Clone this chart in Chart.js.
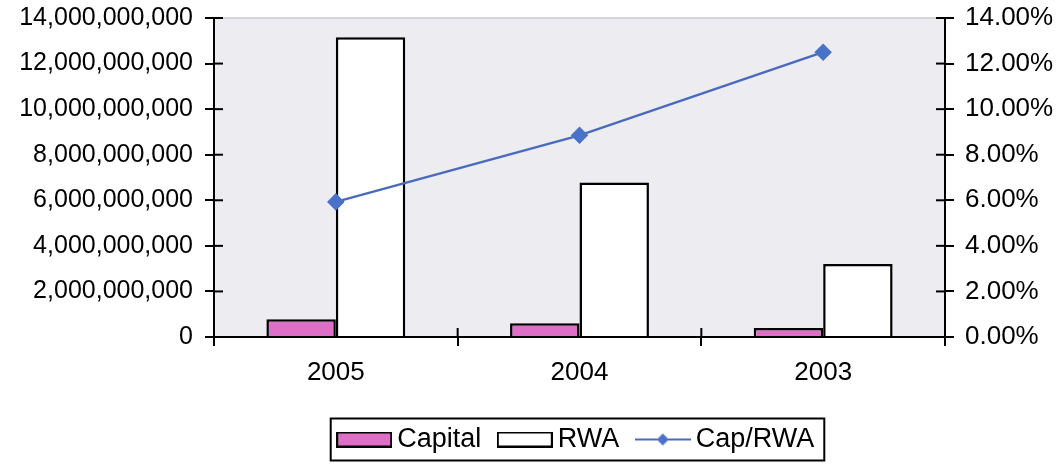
<!DOCTYPE html>
<html>
<head>
<meta charset="utf-8">
<script src="https://cdn.jsdelivr.net/npm/chart.js@4"></script>
<style>
html,body{margin:0;padding:0;background:#fff;}
#wrap{width:1059px;height:466px;position:relative;}
</style>
</head>
<body>
<div id="wrap"><canvas id="c" width="1059" height="466"></canvas></div>
<script>
const categories = ['2005', '2004', '2003'];
const capital = [780000000, 600000000, 400000000];
const rwa = [13150000000, 6780000000, 3200000000];
const capRwa = [5.93, 8.85, 12.50];
const leftTicks = [0, 2000000000, 4000000000, 6000000000, 8000000000, 10000000000, 12000000000, 14000000000];
const rightTicks = [0, 2, 4, 6, 8, 10, 12, 14];

const FONT = "'Liberation Sans', Arial, sans-serif";

function makeImg(w, h, drawFn) {
  const cv = document.createElement('canvas');
  cv.width = w; cv.height = h;
  drawFn(cv.getContext('2d'), w, h);
  return cv;
}
const imgCapital = makeImg(56, 16, (g, w, h) => {
  g.fillStyle = '#dd6fc6'; g.fillRect(1, 1, w - 2, h - 2);
  g.strokeStyle = '#000'; g.lineWidth = 2; g.strokeRect(1, 1, w - 2, h - 2);
});
const imgRwa = makeImg(56, 16, (g, w, h) => {
  g.fillStyle = '#fff'; g.fillRect(1, 1, w - 2, h - 2);
  g.strokeStyle = '#000'; g.lineWidth = 2; g.strokeRect(1, 1, w - 2, h - 2);
});
const imgLine = makeImg(56, 16, (g, w, h) => {
  g.strokeStyle = '#4a6bbd'; g.lineWidth = 2;
  g.beginPath(); g.moveTo(0, h / 2); g.lineTo(w, h / 2); g.stroke();
  g.fillStyle = '#4a72c8';
  g.beginPath(); g.moveTo(w / 2, h / 2 - 6); g.lineTo(w / 2 + 6, h / 2); g.lineTo(w / 2, h / 2 + 6); g.lineTo(w / 2 - 6, h / 2); g.closePath(); g.fill();
});
const legendImgs = [imgCapital, imgRwa, imgLine];

const TL = 9;
const decor = {
  id: 'decor',
  beforeDraw(chart) {
    const a = chart.chartArea, ctx = chart.ctx;
    ctx.save();
    ctx.fillStyle = '#ececf1';
    ctx.fillRect(a.left, a.top, a.right - a.left, a.bottom - a.top);
    ctx.strokeStyle = '#d4d4dc'; ctx.lineWidth = 2;
    ctx.beginPath(); ctx.moveTo(a.left, a.top); ctx.lineTo(a.right, a.top); ctx.stroke();
    ctx.restore();
  },
  afterDraw(chart) {
    const ctx = chart.ctx, a = chart.chartArea;
    ctx.save();
    ctx.strokeStyle = '#000'; ctx.lineWidth = 2;
    const y = chart.scales.y, y1 = chart.scales.y1, x = chart.scales.x;
    y.ticks.forEach((t, i) => {
      const p = y.getPixelForTick(i);
      ctx.beginPath(); ctx.moveTo(a.left, p); ctx.lineTo(a.left + TL, p); ctx.stroke();
    });
    y1.ticks.forEach((t, i) => {
      const p = y1.getPixelForTick(i);
      ctx.beginPath(); ctx.moveTo(a.right, p); ctx.lineTo(a.right - TL, p); ctx.stroke();
    });
    for (let i = 1; i < categories.length; i++) {
      const p = x.getPixelForValue(i - 0.5);
      ctx.beginPath(); ctx.moveTo(p, a.bottom); ctx.lineTo(p, a.bottom - TL); ctx.stroke();
    }
    // legend border
    const lg = chart.legend;
    if (lg && lg.legendHitBoxes && lg.legendHitBoxes.length) {
      const hb = lg.legendHitBoxes;
      const l = Math.min(...hb.map(h => h.left)) - 14;
      const r = Math.max(...hb.map(h => h.left + h.width)) + 10;
      const cy = hb[0].top + hb[0].height / 2;
      ctx.lineWidth = 2;
      ctx.strokeRect(l, cy - 21, r - l, 42);
    }
    ctx.restore();
  }
};

function fixY(w) {
  return function (s) { s.width = w; s.paddingTop = 0; s.paddingBottom = 0; };
}

new Chart(document.getElementById('c'), {
  type: 'bar',
  data: {
    labels: categories,
    datasets: [
      { label: 'Capital', data: capital, backgroundColor: '#dd6fc6', borderColor: '#000', borderWidth: 2.5, yAxisID: 'y', order: 1, categoryPercentage: 0.57, barPercentage: 1.0 },
      { label: 'RWA', data: rwa, backgroundColor: '#ffffff', borderColor: '#000', borderWidth: 2.5, yAxisID: 'y', order: 2, categoryPercentage: 0.57, barPercentage: 1.0 },
      { type: 'line', label: 'Cap/RWA', data: capRwa, borderColor: '#4a6bbd', borderWidth: 2.5, backgroundColor: '#4a72c8', pointBackgroundColor: '#4a72c8', pointBorderColor: '#4a72c8', pointStyle: 'rectRot', pointRadius: 7, yAxisID: 'y1', order: 0, tension: 0 }
    ]
  },
  options: {
    responsive: false,
    animation: false,
    layout: { padding: { top: 18, left: 0, right: 0, bottom: 3 } },
    plugins: {
      tooltip: { enabled: false },
      legend: {
        position: 'bottom',
        fullSize: false,
        labels: {
          color: '#000',
          font: { family: FONT, size: 27 },
          usePointStyle: true,
          pointStyleWidth: 39,
          boxHeight: 16,
          padding: 24,
          sort: (a, b) => a.datasetIndex - b.datasetIndex,
          generateLabels(chart) {
            const items = Chart.defaults.plugins.legend.labels.generateLabels(chart);
            items.forEach(it => { it.pointStyle = legendImgs[it.datasetIndex]; it.lineWidth = 0; });
            return items;
          }
        }
      }
    },
    scales: {
      x: {
        offset: true,
        grid: { display: true, drawOnChartArea: false, drawTicks: true, tickLength: TL, color: '#000', lineWidth: 2, offset: true },
        border: { display: true, color: '#000', width: 2 },
        ticks: { color: '#000', font: { family: FONT, size: 26 }, padding: 11, maxRotation: 0 },
        afterFit(s) { s.height = 65; s.paddingLeft = 0; s.paddingRight = 0; }
      },
      y: {
        position: 'left',
        min: 0, max: 14000000000,
        afterBuildTicks(s) { s.ticks = leftTicks.map(v => ({ value: v })); },
        grid: { display: true, drawOnChartArea: false, drawTicks: true, tickLength: TL, color: '#000', lineWidth: 2 },
        border: { display: true, color: '#000', width: 2 },
        ticks: { color: '#000', font: { family: FONT, size: 25 }, padding: 12, callback: v => Number(v).toLocaleString('en-US') },
        afterFit: fixY(214)
      },
      y1: {
        position: 'right',
        min: 0, max: 14,
        afterBuildTicks(s) { s.ticks = rightTicks.map(v => ({ value: v })); },
        grid: { display: true, drawOnChartArea: false, drawTicks: true, tickLength: TL, color: '#000', lineWidth: 2 },
        border: { display: true, color: '#000', width: 2 },
        ticks: { color: '#000', font: { family: FONT, size: 26 }, padding: 11, callback: v => Number(v).toFixed(2) + '%' },
        afterFit: fixY(114)
      }
    }
  },
  plugins: [decor]
});
</script>
</body>
</html>
